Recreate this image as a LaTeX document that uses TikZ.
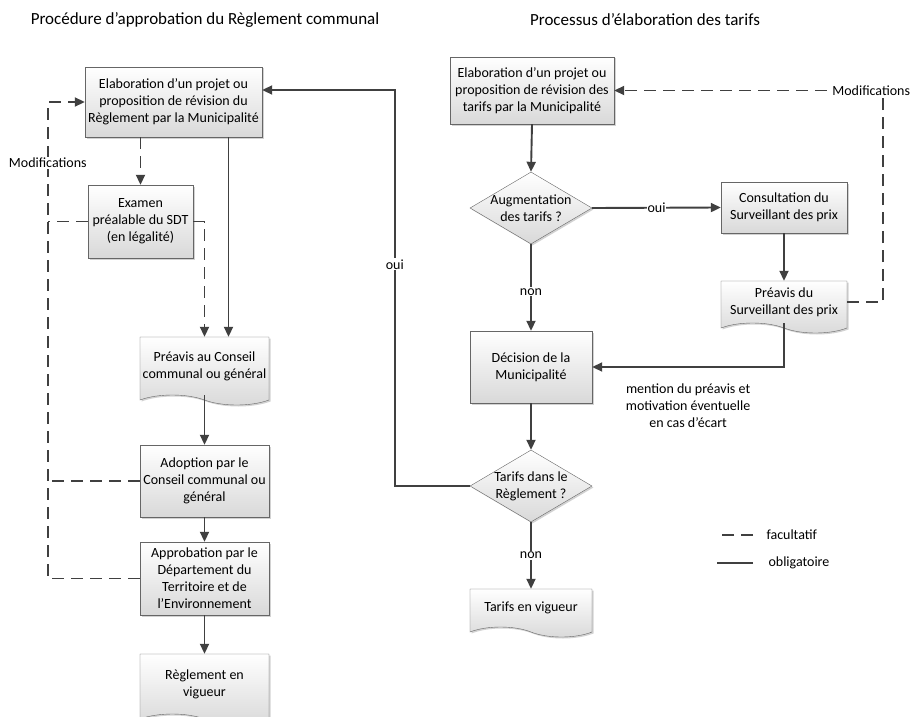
\documentclass[tikz,border=0pt]{standalone}
\usepackage{fontspec}
\setmainfont{Carlito}
\usetikzlibrary{arrows.meta,shapes.geometric,shapes.symbols,shadows}
\definecolor{linegray}{HTML}{404040}

\begin{document}
\begin{tikzpicture}[x=1pt, y=-1pt,
  box/.style={draw=black!60, top color=white, bottom color=black!15,
              drop shadow={shadow xshift=1.5pt, shadow yshift=-1.5pt,
                           fill=black!35, opacity=0.5},
              font=\fontsize{14}{17}\selectfont, align=center, inner sep=2pt},
  doc/.style={box, tape, tape bend top=none, tape bend bottom=out and in,
              tape bend height=10pt},
  decision/.style={box, diamond, aspect=1.7, inner sep=-3pt,
                   minimum width=122pt, minimum height=72pt},
  arr/.style={-{Triangle[length=10pt, width=9pt]}, draw=linegray, line width=1.9pt},
  opt/.style={draw=linegray, line width=1.9pt, dash pattern=on 12pt off 7pt},
  optarr/.style={opt, -{Triangle[length=10pt, width=9pt]}},
  lbl/.style={font=\fontsize{14}{17}\selectfont, align=center},
  title/.style={font=\fontsize{17}{21}\selectfont},
]
  \useasboundingbox (0,0) rectangle (910,717);

  % titles
  \node[title] (titleR) at (205,20) {Procédure d’approbation du Règlement communal};
  \node[title] (titleT) at (645,20) {Processus d’élaboration des tarifs};

  % Reglement communal
  \node[box, minimum width=177pt, minimum height=70pt] (elabR) at (173.5,102)
    {Elaboration d’un projet ou\\proposition de révision du\\Règlement par la Municipalité};
  \node[box, minimum width=105pt, minimum height=73pt] (examen) at (140.5,221.5)
    {Examen\\préalable du SDT\\(en légalité)};
  \node[doc, minimum width=129pt, minimum height=68pt] (preavisC) at (204.5,366)
    {Préavis au Conseil\\communal ou général};
  \node[box, minimum width=129pt, minimum height=72pt] (adoption) at (204.5,481)
    {Adoption par le\\Conseil communal ou\\général};
  \node[box, minimum width=129pt, minimum height=73pt] (approb) at (204.5,578.5)
    {Approbation par le\\Département du\\Territoire et de\\l’Environnement};
  \node[doc, minimum width=129pt, minimum height=70pt] (reglV) at (204.5,684)
    {Règlement en\\vigueur};

  % tarifs
  \node[box, minimum width=164pt, minimum height=67pt] (elabT) at (532,90.5)
    {Elaboration d’un projet ou\\proposition de révision des\\tarifs par la Municipalité};
  \node[decision] (aug) at (531,208) {Augmentation\\des tarifs ?};
  \node[box, minimum width=126pt, minimum height=51pt] (consult) at (784,207.5)
    {Consultation du\\Surveillant des prix};
  \node[doc, minimum width=126pt, minimum height=52pt] (preavisS) at (784,302)
    {Préavis du\\Surveillant des prix};
  \node[box, minimum width=122pt, minimum height=72pt] (decis) at (531,367)
    {Décision de la\\Municipalité};
  \node[decision] (tarifs) at (531,486) {Tarifs dans le\\Règlement ?};
  \node[doc, minimum width=122pt, minimum height=48pt] (tarifsV) at (531,608)
    {Tarifs en vigueur};

  % connectors, left
  \draw[optarr] (elabR.south -| examen.north) -- (examen.north);
  \draw[arr] ([xshift=55pt]elabR.south) -- ([xshift=55pt]elabR.south |- preavisC.north);
  \draw[optarr] (examen.east) -| (preavisC.north);
  \draw[arr] (preavisC.south) -- (adoption.north);
  \draw[arr] (adoption.south) -- (approb.north);
  \draw[arr] (approb.south) -- (reglV.north);
  \draw[optarr] (approb.west) -- ++(-92,0) coordinate (modB)
    |- node[lbl, fill=white, pos=0.436, inner sep=1pt] {Modifications} (elabR.west);
  \draw[opt] (examen.west) -- (examen.west -| modB);
  \draw[opt] (adoption.west) -- (adoption.west -| modB);

  % connectors, right
  \draw[arr] (elabT.south) -- (aug.north);
  \draw[arr] (aug.east) -- node[lbl, fill=white, inner sep=1pt] {oui} (consult.west);
  \draw[arr] (aug.south) -- node[lbl, fill=white, inner sep=1pt, pos=0.55] {non} (decis.north);
  \draw[arr] (consult.south) -- (preavisS.north);
  \draw[arr] (preavisS.south) |- node[lbl, pos=0.75, below=12pt] {mention du préavis et\\motivation éventuelle\\en cas d’écart} (decis.east);
  \draw[optarr] (preavisS.east) -- ++(36,0)
    |- node[lbl, fill=white, inner sep=1pt, xshift=-12pt] {Modifications} (elabT.east);
  \draw[arr] (decis.south) -- (tarifs.north);
  \draw[arr] (tarifs.south) -- node[lbl, fill=white, inner sep=1pt] {non} (tarifsV.north);
  \draw[arr] (tarifs.west) -- ++(-75,0)
    |- node[lbl, fill=white, inner sep=1pt, pos=0.28] {oui} ([yshift=12pt]elabR.east);

  % legend
  \node[lbl, anchor=west] (legOpt) at (763,535) {facultatif};
  \node[lbl, anchor=west] (legObl) at (765,563) {obligatoire};
  \draw[opt] ([xshift=-10pt]legOpt.west) -- ++(-36,0);
  \draw[draw=linegray, line width=1.9pt] ([xshift=-12pt]legObl.west) -- ++(-36,0);
\end{tikzpicture}
\end{document}
